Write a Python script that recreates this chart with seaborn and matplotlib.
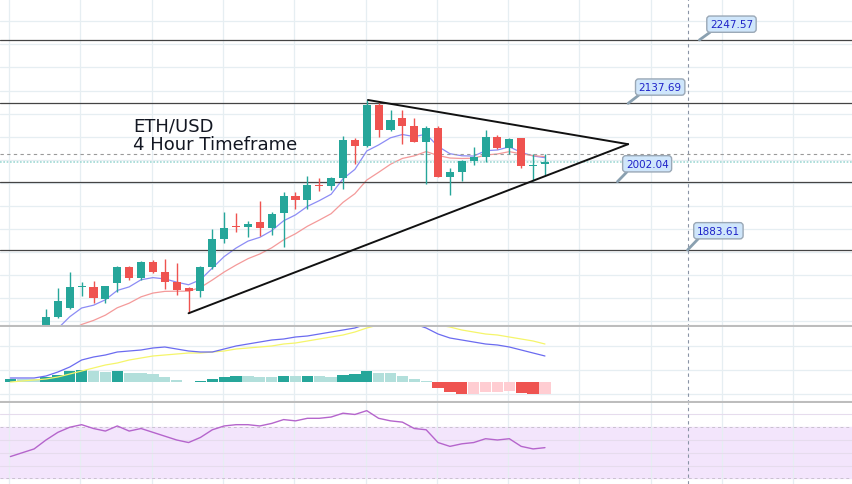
import numpy as np
import pandas as pd
import matplotlib
matplotlib.use("Agg")
import matplotlib.pyplot as plt
import seaborn as sns

# ---- data ----
opens  = [1690, 1700, 1712, 1738, 1767, 1783, 1819, 1820, 1799, 1826, 1854, 1835, 1863, 1845, 1828, 1817, 1812,
          1854, 1903, 1926, 1923, 1932, 1922, 1948, 1977, 1970, 1996, 1994, 2008, 2074, 2064, 2135, 2092, 2112,
          2098, 2071, 2095, 2010, 2019, 2038, 2045, 2080, 2060, 2077, 2029, 2032]
highs  = [1705, 1718, 1742, 1781, 1817, 1845, 1828, 1830, 1822, 1856, 1856, 1864, 1866, 1868, 1861, 1819, 1856,
          1920, 1950, 1948, 1934, 1968, 1950, 1984, 1985, 2012, 2008, 2010, 2081, 2078, 2144, 2138, 2126, 2126,
          2112, 2098, 2098, 2026, 2040, 2062, 2092, 2083, 2078, 2078, 2050, 2050]
lows   = [1685, 1695, 1708, 1735, 1766, 1781, 1804, 1792, 1792, 1811, 1832, 1832, 1844, 1816, 1806, 1774, 1802,
          1850, 1895, 1915, 1906, 1908, 1910, 1889, 1955, 1955, 1986, 1988, 1989, 2033, 2062, 2079, 2090, 2067,
          2070, 1998, 2010, 1979, 2003, 2031, 2036, 2058, 2050, 2025, 2004, 2014]
closes = [1700, 1712, 1738, 1767, 1795, 1819, 1821, 1800, 1821, 1854, 1835, 1863, 1845, 1828, 1814, 1812, 1854,
          1903, 1922, 1924, 1929, 1922, 1946, 1977, 1970, 1996, 1994, 2008, 2074, 2064, 2135, 2092, 2109, 2098,
          2071, 2095, 2010, 2019, 2038, 2045, 2079, 2060, 2076, 2029, 2031, 2036]
macd_hist = [3.3, 3.3, 3.3, 5, 6.7, 10.7, 12.3, 11, 10, 11.3, 9.3, 9.3, 8.3, 5, 2.3, 0, 0.7, 2.7, 5, 5.7, 5.7,
             5, 5, 6, 5.7, 6, 5.7, 5, 7.3, 8.3, 11.3, 9.3, 9, 6, 2.7, 1.3, -6, -10, -11.7, -11.7, -10, -10,
             -9.3, -11, -12.3, -12.3]
macd_line = [4, 4, 4, 6, 10, 15, 22, 25, 27, 30, 31, 32, 34, 35, 33, 31, 30, 30, 33, 36, 38, 40, 42, 43, 45,
             46, 48, 50, 52, 54, 58, 60, 62, 60, 58, 54, 48, 44, 42, 40, 38, 37, 35, 32, 29, 26]
macd_signal = [0, 1, 2, 3, 5, 8, 11, 14, 17, 19, 22, 24, 26, 27, 28, 29, 29, 30, 31, 33, 34, 35, 36, 38, 39,
               41, 43, 45, 47, 50, 54, 57, 58, 59, 59, 58, 57, 55, 52, 50, 48, 47, 45, 43, 41, 38]
rsi = [47, 50, 53, 60, 66, 70, 72, 69, 67, 71, 67, 69, 66, 63, 60, 58, 62, 68, 71, 72, 72, 71, 73, 76, 75,
       77, 77, 78, 81, 80, 83, 77, 75, 74, 69, 68, 58, 55, 57, 58, 61, 60, 61, 55, 53, 54]
levels = [2247.57, 2137.69, 2002.04, 1883.61]
level_labels = ["2247.57", "2137.69", "2002.04", "1883.61"]
label_pos = [(57.7, 2275), (51.7, 2166), (50.6, 2033), (56.6, 1917)]
leader_start_x = [55.0, 49.0, 48.1, 54.0]
leader_end = [(55.9, 2261), (49.9, 2152), (48.9, 2019), (54.9, 1903)]
tri_lower = ([12.0, 49.0], [1774, 2067])
tri_upper = ([27.1, 49.0], [2143.6, 2067])
first_index = -3

sns.set_theme(style="white")
plt.rcParams["font.family"] = "DejaVu Sans"

df = pd.DataFrame({"o": opens, "h": highs, "l": lows, "c": closes})
df["x"] = np.arange(len(df)) + first_index
df["ema_fast"] = df["c"].ewm(span=6, adjust=False).mean()
df["ema_slow"] = df["c"].ewm(span=12, adjust=False).mean()

fig = plt.figure(figsize=(8.52, 4.85), dpi=100)
H = 485
ax = fig.add_axes([0, 1 - 328 / H, 1, 328 / H])
axm = fig.add_axes([0, 81 / H, 1, 76 / H])
axr = fig.add_axes([0, 0, 1, 81 / H])
STEP = 11.88
xlim = (-46 / STEP, (852 - 46) / STEP)
GREEN, RED = "#26a69a", "#ef5350"
grid_x = np.arange(-3.1, 70, 6)

for a in (ax, axm, axr):
    a.set_xlim(*xlim)
    a.set_xticks([]); a.set_yticks([])
    for s in a.spines.values():
        s.set_visible(False)
    for gx in grid_x:
        a.axvline(gx, color="#e6eef2", lw=0.9, zorder=0.5)
    a.axvline(54.0, color="#8a94a6", lw=0.8, ls=(0, (3, 3)), zorder=1)

# ---- main ----
ax.set_ylim(1750.2, 2318.6)
for gy in np.arange(1760, 2320, 40):
    ax.axhline(gy, color="#e6eef2", lw=0.9, zorder=0)
for i, r in df.iterrows():
    col = GREEN if r.c >= r.o else RED
    ax.vlines(r.x, r.l, r.h, color=col, lw=1, zorder=3)
    lo, hi = min(r.o, r.c), max(r.o, r.c)
    ax.bar(r.x, max(hi - lo, 1.5), bottom=lo, width=0.68, color=col, zorder=4, linewidth=0)
sns.lineplot(x=df["x"], y=df["ema_fast"], ax=ax, color="#8c8cf5", lw=0.9, zorder=2)
sns.lineplot(x=df["x"], y=df["ema_slow"], ax=ax, color="#f49a9a", lw=0.9, zorder=2)
for lv in levels:
    ax.axhline(lv, color="#444444", lw=0.9, zorder=2)
ax.axhline(2050, color="#9a9a9a", lw=0.8, ls=(0, (3, 3)), zorder=2)
ax.axhline(2036, color="#9fd9d4", lw=1.2, ls=(0, (1, 1)), zorder=2)
ax.plot(*tri_lower, color="#111111", lw=1.4, zorder=5)
ax.plot(*tri_upper, color="#111111", lw=1.4, zorder=5)
for (lx, ly), txt, lev, sx, (ex, ey) in zip(label_pos, level_labels, levels, leader_start_x, leader_end):
    ax.plot([sx, ex], [lev, ey], color="#8aa0b0", lw=2, zorder=6)
    ax.text(lx, ly, txt, ha="center", va="center", fontsize=7.5, color="#1e22c8", zorder=7,
            bbox=dict(boxstyle="round,pad=0.3", fc="#cfe6fb", ec="#9aa8b6", lw=1))
ax.text(xlim[0] + 133 / STEP, 2083, "ETH/USD\n4 Hour Timeframe", fontsize=13, color="#131722",
        va="center", ha="left", linespacing=1.05)
ax.axhline(1751.5, color="#bdbdbd", lw=1.5, zorder=8)

# ---- MACD ----
axm.set_ylim(-21, 55)
for gy in (-12, 12, 36):
    axm.axhline(gy, color="#e6eef2", lw=0.9, zorder=0)
hist = np.array(macd_hist)
prev = np.concatenate([[0], hist[:-1]])
cols = []
for v, p in zip(hist, prev):
    if v >= 0:
        cols.append("#26a69a" if v > p else "#b2dfdb")
    else:
        cols.append("#ef5350" if v < p else "#ffcdd2")
axm.bar(df["x"], hist, width=0.95, color=cols, zorder=2, linewidth=0)
sns.lineplot(x=df["x"], y=macd_signal, ax=axm, color="#f5f56a", lw=0.9, zorder=3)
sns.lineplot(x=df["x"], y=macd_line, ax=axm, color="#6b6bf0", lw=0.9, zorder=3)
axm.axhline(-20, color="#bdbdbd", lw=1.5, zorder=8)

# ---- RSI ----
axr.set_ylim(25.5, 89)
axr.axhspan(30, 70, color="#f3e5fc", zorder=0)
for gy in (30, 70):
    axr.axhline(gy, color="#c9c0d0", lw=0.7, ls=(0, (3, 3)), zorder=1)
for gy in (40, 50, 60, 80):
    axr.axhline(gy, color="#e6dced", lw=0.8, zorder=0.5)
sns.lineplot(x=df["x"], y=rsi, ax=axr, color="#b565cc", lw=1.0, zorder=3)
for a in (ax, axm, axr):
    a.set_xlabel(""); a.set_ylabel("")
    a.set_xlim(*xlim)

fig.savefig("out.png", dpi=100)
